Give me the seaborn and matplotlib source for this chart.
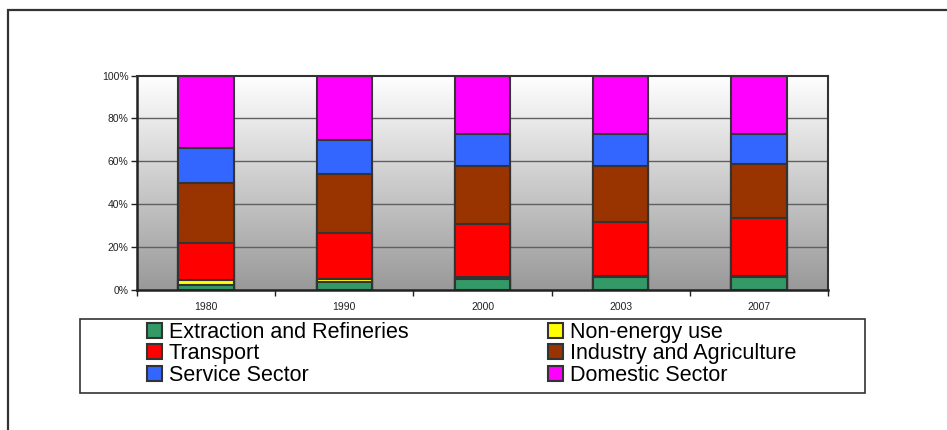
import numpy as np
import pandas as pd
import matplotlib
matplotlib.use("Agg")
import matplotlib.pyplot as plt
from matplotlib.patches import Rectangle, Patch
from matplotlib.ticker import FixedLocator
import seaborn as sns

# Share of final energy consumption by sector (%)
years = ["1980", "1990", "2000", "2003", "2007"]
sectors = ["Extraction and Refineries", "Non-energy use", "Transport",
           "Industry and Agriculture", "Service Sector", "Domestic Sector"]
extraction = [2.5, 3.5, 5.3, 6.0, 6.0]
non_energy = [2.0, 1.8, 0.8, 0.7, 0.7]
transport = [17.5, 21.5, 24.5, 24.9, 26.8]
industry = [28.0, 27.3, 27.1, 26.1, 25.1]
service = [16.0, 16.0, 15.0, 15.0, 14.1]
domestic = [34.0, 29.9, 27.3, 27.3, 27.3]
y_ticks = [0, 20, 40, 60, 80, 100]
y_tick_labels = ["0%", "20%", "40%", "60%", "80%", "100%"]

colors = ["#339966", "#FFFF00", "#FF0000", "#993300", "#3366FF", "#FF00FF"]

sns.set_theme(style="white")
plt.rcParams["font.family"] = ["Liberation Sans", "DejaVu Sans"]

values = np.array([extraction, non_energy, transport, industry, service, domestic])
cum = np.cumsum(values, axis=0)
df = pd.DataFrame(cum.T, columns=sectors)
df["Year"] = years

W, H = 947, 430
fig = plt.figure(figsize=(W / 100, H / 100), dpi=100)
fig.patch.set_facecolor("white")

# outer frame
fig.add_artist(Rectangle((8 / W, -0.1), 1.2, (H - 10) / H + 0.1, transform=fig.transFigure,
                         fill=False, edgecolor="#333333", linewidth=1.6))

ax = fig.add_axes([137 / W, (H - 290) / H, (828 - 137) / W, (290 - 75.5) / H])

# vertical gradient behind the bars: white at the top, grey at the bottom
grad = np.linspace(0, 1, 256).reshape(-1, 1)
ax.imshow(grad, cmap=matplotlib.colors.LinearSegmentedColormap.from_list(
    "bg", ["#ffffff", "#999999"]), aspect="auto", origin="upper",
    extent=(-0.5, 4.5, 0, 100), zorder=0, interpolation="bicubic")

# stacked bars: draw cumulative totals from top layer down
for i in range(len(sectors) - 1, -1, -1):
    sns.barplot(data=df, x="Year", y=sectors[i], color=colors[i], width=0.4,
                edgecolor="#333333", linewidth=1.5, saturation=1, ax=ax, zorder=3)

ax.set_xlim(-0.5, 4.5)
ax.set_ylim(0, 100)
ax.set_xlabel("")
ax.set_ylabel("")

for yv in y_ticks[1:-1]:
    ax.axhline(yv, color="#606060", linewidth=1.0, zorder=1)

ax.set_yticks(y_ticks)
ax.set_yticklabels(y_tick_labels)
ax.xaxis.set_minor_locator(FixedLocator(np.arange(-0.5, 5.0, 1.0)))
ax.tick_params(axis="x", which="major", length=0, labelsize=7.5, pad=9, colors="#222222")
ax.tick_params(axis="x", which="minor", length=4, width=1, bottom=True, color="#222222")
ax.tick_params(axis="y", which="major", length=4, width=1, left=True, labelsize=7.5,
               pad=2, colors="#222222")

for side, sp in ax.spines.items():
    sp.set_visible(True)
    sp.set_color("#222222")
    sp.set_zorder(5)
ax.spines["left"].set_linewidth(1.8)
ax.spines["bottom"].set_linewidth(1.8)
ax.spines["top"].set_linewidth(1.5)
ax.spines["right"].set_linewidth(1.5)
ax.spines["top"].set_color("#333333")
ax.spines["right"].set_color("#333333")

# legend box
fig.add_artist(Rectangle((80 / W, (H - 393) / H), (865 - 80) / W, (393 - 319) / H,
                         transform=fig.transFigure, fill=False,
                         edgecolor="#333333", linewidth=1.2))

handles = [Patch(facecolor=c, edgecolor="#333333", linewidth=1.5) for c in colors]
col1 = [0, 2, 4]
col2 = [1, 3, 5]
for idx, x0 in ((col1, 147), (col2, 548)):
    fig.legend([handles[i] for i in idx], [sectors[i] for i in idx],
               loc="upper left", bbox_to_anchor=(x0 / W, (H - 322) / H),
               frameon=False, fontsize=15.5, handlelength=0.7, handleheight=0.7,
               handletextpad=0.3, labelspacing=0.02, borderpad=0.0, borderaxespad=0.0,
               labelcolor="black")

fig.savefig("out.png", dpi=100)
